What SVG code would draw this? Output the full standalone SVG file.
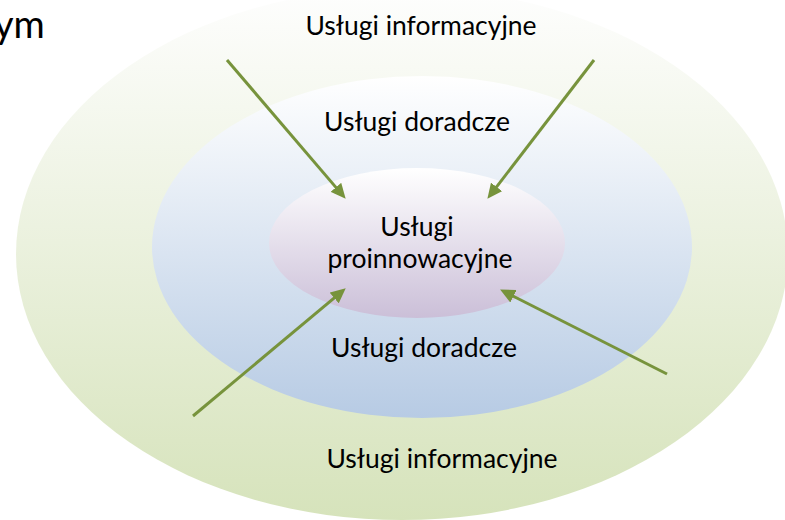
<svg xmlns="http://www.w3.org/2000/svg" width="785" height="520" viewBox="0 0 785 520">
  <style>
    .lbl { font-family: Lato, "Open Sans", "Liberation Sans", sans-serif; font-size: 26.5px; fill: #000; text-anchor: middle; }
    .arrow { stroke: #77933c; stroke-width: 3; fill: none; marker-end: url(#head); }
  </style>
  <defs>
    <linearGradient id="gOuter" x1="0" y1="0" x2="0" y2="1">
      <stop offset="0" stop-color="#fefefe"/>
      <stop offset="1" stop-color="#d6e3bb"/>
    </linearGradient>
    <linearGradient id="gMiddle" x1="0" y1="0" x2="0" y2="1">
      <stop offset="0" stop-color="#ffffff"/>
      <stop offset="1" stop-color="#b7cbe4"/>
    </linearGradient>
    <linearGradient id="gInner" x1="0" y1="0" x2="0" y2="1">
      <stop offset="0" stop-color="#ffffff"/>
      <stop offset="1" stop-color="#cbbfd8"/>
    </linearGradient>
    <marker id="head" markerUnits="userSpaceOnUse" markerWidth="15" markerHeight="14" refX="4" refY="7" orient="auto">
      <path d="M0,0 L15,7 L0,14 z" fill="#77933c"/>
    </marker>
  </defs>

  <rect width="785" height="520" fill="#ffffff"/>

  <text x="-6" y="38" font-family="Lato, 'Open Sans', 'Liberation Sans', sans-serif" font-size="38" fill="#000">ym</text>

  <g id="ring-informacyjne">
    <ellipse cx="402" cy="254" rx="386" ry="266" fill="url(#gOuter)"/>
    <text class="lbl" x="421" y="35">Usługi informacyjne</text>
    <text class="lbl" x="442" y="468">Usługi informacyjne</text>
  </g>

  <g id="ring-doradcze">
    <ellipse cx="422" cy="247" rx="270" ry="171" fill="url(#gMiddle)"/>
    <text class="lbl" x="417" y="131">Usługi doradcze</text>
    <text class="lbl" x="424" y="357">Usługi doradcze</text>
  </g>

  <g id="core-proinnowacyjne">
    <ellipse cx="417" cy="243" rx="148" ry="75" fill="url(#gInner)"/>
    <text class="lbl" x="417" y="236">Usługi</text>
    <text class="lbl" x="420" y="268">proinnowacyjne</text>
  </g>

  <g id="connectors">
    <line class="arrow" x1="227" y1="60" x2="338.5" y2="190.4"/>
    <line class="arrow" x1="594" y1="60" x2="494.1" y2="190.1"/>
    <line class="arrow" x1="193" y1="416" x2="337.3" y2="295.4"/>
    <line class="arrow" x1="667" y1="374" x2="509.9" y2="294.5"/>
  </g>
</svg>
